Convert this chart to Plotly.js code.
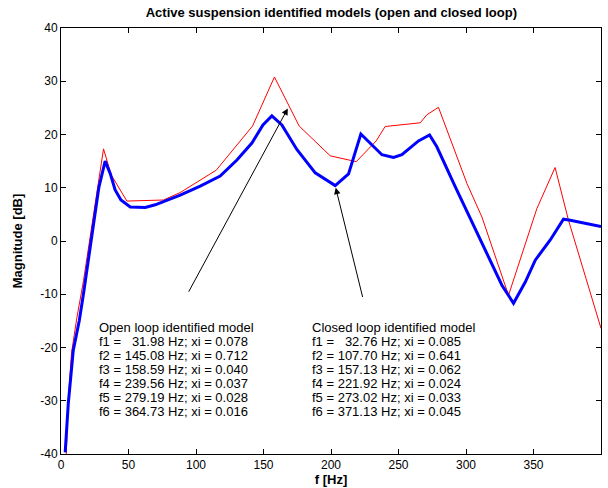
<!DOCTYPE html>
<html>
<head>
<meta charset="utf-8">
<script src="https://cdn.plot.ly/plotly-3.0.1.min.js"></script>
<style>html,body{margin:0;padding:0;background:#fff;}#chart{width:608px;height:488px;}</style>
</head>
<body>
<div id="chart"></div>
<script>
// Open loop identified model (thin red)
const openFreq = [3.9, 5.0, 7.8, 11.7, 16.7, 31.5, 37.2, 48.8, 75.9, 88.3, 115.0, 141.9, 158.1, 176.4, 199.4, 218.7, 233.5, 240.1, 266.1, 271.0, 279.6, 290.7, 300.7, 311.8, 331.5, 352.5, 366.0, 375.9, 400.0];
const openMag  = [-40.0, -31.5, -21.0, -14.5, -7.4, 17.3, 12.4, 7.5, 7.7, 9.1, 13.3, 21.6, 30.8, 21.6, 16.0, 14.9, 18.8, 21.5, 22.2, 23.7, 25.1, 17.7, 10.8, 4.5, -10.2, 6.1, 13.8, 3.9, -16.4];

// Closed loop identified model (thick blue)
const closedFreq = [3.1, 5.4, 9.1, 13.6, 16.7, 20.4, 23.4, 28.0, 32.7, 36.4, 40.1, 44.4, 51.3, 62.4, 69.8, 75.9, 88.3, 103.1, 117.9, 130.3, 141.4, 149.6, 156.2, 163.6, 174.7, 188.3, 203.1, 213.0, 222.1, 237.7, 246.3, 252.5, 264.8, 273.0, 278.4, 292.0, 311.8, 326.6, 335.2, 343.9, 351.3, 362.4, 372.2, 377.2, 400.0];
const closedMag  = [-39.7, -30.5, -20.5, -14.9, -9.8, -3.6, 2.1, 10.0, 15.0, 12.7, 9.6, 7.7, 6.4, 6.3, 6.8, 7.4, 8.6, 10.3, 12.2, 15.2, 18.4, 21.8, 23.5, 21.8, 17.2, 12.8, 10.4, 12.6, 20.1, 16.2, 15.7, 16.2, 18.8, 19.9, 17.7, 10.2, -0.4, -8.3, -11.7, -7.7, -3.6, 0.2, 4.1, 3.9, 2.7];

const xTicks = [0, 50, 100, 150, 200, 250, 300, 350, 400];
const yTicks = [-40, -30, -20, -10, 0, 10, 20, 30, 40];

const openText = ["Open loop identified model",
  "f1 =   31.98 Hz; xi = 0.078",
  "f2 = 145.08 Hz; xi = 0.712",
  "f3 = 158.59 Hz; xi = 0.040",
  "f4 = 239.56 Hz; xi = 0.037",
  "f5 = 279.19 Hz; xi = 0.028",
  "f6 = 364.73 Hz; xi = 0.016"];
const closedText = ["Closed loop identified model",
  "f1 =   32.76 Hz; xi = 0.085",
  "f2 = 107.70 Hz; xi = 0.641",
  "f3 = 157.13 Hz; xi = 0.062",
  "f4 = 221.92 Hz; xi = 0.024",
  "f5 = 273.02 Hz; xi = 0.033",
  "f6 = 371.13 Hz; xi = 0.045"];

// arrows: [tailX, tailY, headX, headY]
const openArrow = [94, -9.8, 168, 24.9];
const closedArrow = [223.7, -10.8, 203.5, 10.0];

const nbsp = s => s.replace(/ {2,}/g, m => '\u00a0'.repeat(m.length));
const FONT = 'Liberation Sans, Arial, Helvetica, sans-serif';

const traces = [
  {x: openFreq, y: openMag, mode: 'lines', line: {color: '#ff0000', width: 1}, hoverinfo: 'skip'},
  {x: closedFreq, y: closedMag, mode: 'lines', line: {color: '#0000ff', width: 3}, hoverinfo: 'skip'}
];

function arrow(a) {
  return {x: a[2], y: a[3], ax: a[0], ay: a[1], xref: 'x', yref: 'y', axref: 'x', ayref: 'y',
    showarrow: true, arrowhead: 2, arrowsize: 1.3, arrowwidth: 1, arrowcolor: '#000', text: ''};
}

// text block placement (first line centre, line step in dB units ~ 14 px)
const blockTop = -16.2, lineStep = 2.63;
function block(lines, x0) {
  return lines.map((s, i) => ({x: x0, y: blockTop - i * lineStep, xref: 'x', yref: 'y',
    xanchor: 'left', yanchor: 'middle', align: 'left', showarrow: false,
    text: nbsp(s), font: {family: FONT, size: 13, color: '#000'}}));
}

const axisCommon = {
  showgrid: false, zeroline: false, showline: true, linecolor: '#000', linewidth: 1,
  mirror: 'ticks', ticks: 'inside', ticklen: 5, tickcolor: '#000',
  tickfont: {family: FONT, size: 12, color: '#000'}
};

const layout = {
  width: 608, height: 488,
  margin: {l: 61, r: 7, t: 28, b: 34},
  paper_bgcolor: '#fff', plot_bgcolor: '#fff',
  showlegend: false,
  title: {text: '<b>Active suspension identified models (open and closed loop)</b>',
    font: {family: FONT, size: 13, color: '#000'}, x: 0.545, xanchor: 'center', y: 0.975, yanchor: 'middle'},
  xaxis: Object.assign({}, axisCommon, {range: [0, 400], tickvals: xTicks, ticktext: xTicks.map(String),
    title: {text: '<b>f [Hz]</b>', font: {family: FONT, size: 13, color: '#000'}, standoff: 0}}),
  yaxis: Object.assign({}, axisCommon, {range: [-40, 40], tickvals: yTicks, ticktext: yTicks.map(String),
    title: {text: '<b>Magnitude [dB]</b>', font: {family: FONT, size: 13, color: '#000'}, standoff: 14}}),
  annotations: [arrow(openArrow), arrow(closedArrow)]
    .concat(block(openText, 26.8))
    .concat(block(closedText, 184.6))
};

Plotly.newPlot('chart', traces, layout, {staticPlot: true, displayModeBar: false});
</script>
</body>
</html>
